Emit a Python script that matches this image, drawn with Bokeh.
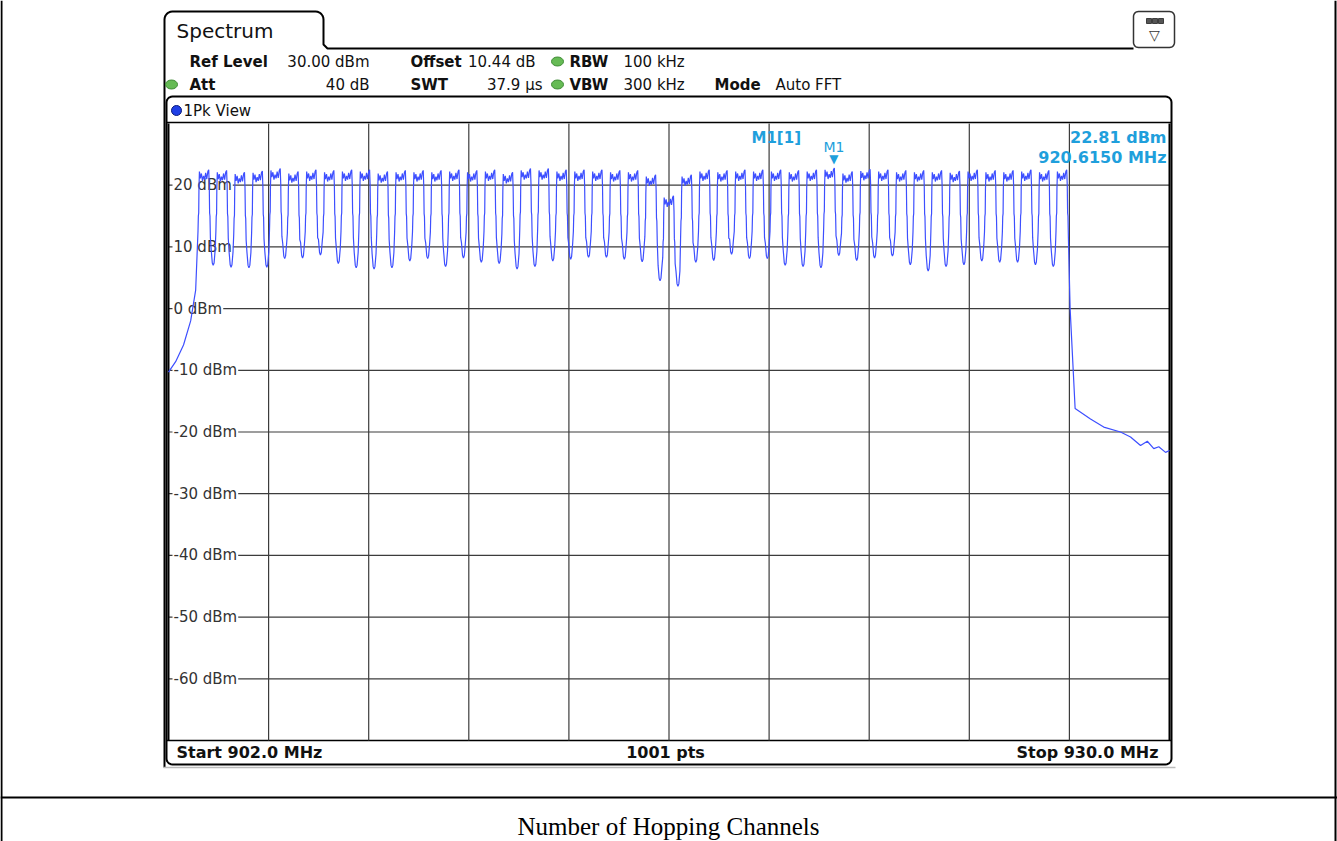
import numpy as np
from bokeh.plotting import figure
from bokeh.models import Range1d
from bokeh.core.properties import value
from bokeh.embed import file_html
from bokeh.resources import INLINE

# ---------------- data ----------------
start_mhz = 902.0
stop_mhz = 930.0
ref_dbm = 30.0
bottom_dbm = -70.0
n_points = 1001

level_ticks = [20, 10, 0, -10, -20, -30, -40, -50, -60]
level_labels = ["20 dBm", "10 dBm", "0 dBm", "-10 dBm", "-20 dBm",
                "-30 dBm", "-40 dBm", "-50 dBm", "-60 dBm"]
freq_grid = [904.8, 907.6, 910.4, 913.2, 916.0, 918.8, 921.6, 924.4, 927.2]

# hopping channel centres (MHz)
ch_mhz = [903.0, 903.5, 904.0, 904.5, 905.0, 905.5, 906.0, 906.5, 907.0, 907.5,
          908.0, 908.5, 909.0, 909.5, 910.0, 910.5, 911.0, 911.5, 912.0, 912.5,
          913.0, 913.5, 914.0, 914.5, 915.0, 915.5, 916.0, 916.5, 917.0, 917.5,
          918.0, 918.5, 919.0, 919.5, 920.0, 920.5, 921.0, 921.5, 922.0, 922.5,
          923.0, 923.5, 924.0, 924.5, 925.0, 925.5, 926.0, 926.5, 927.0]
# peak level of each channel (dBm)
ch_top_dbm = [22.5, 22.4, 22.1, 22.3, 22.7, 22.2, 22.5, 22.4, 22.5, 22.5,
              22.2, 22.4, 22.4, 22.4, 22.5, 22.4, 22.5, 22.1, 22.7, 22.7,
              22.5, 22.5, 22.5, 22.4, 22.4, 21.7, 18.3, 21.7, 22.5, 22.4,
              22.5, 22.5, 22.5, 22.4, 22.5, 22.8, 22.2, 22.6, 22.5, 22.4,
              22.4, 22.4, 22.3, 22.5, 22.4, 22.4, 22.5, 22.4, 22.5]
# level of the notch between neighbouring channels (dBm)
dip_dbm = [7.0, 6.7, 6.6, 6.7, 8.1, 8.2, 8.7, 7.3, 6.6, 6.4,
           6.6, 7.7, 8.1, 6.8, 8.2, 7.5, 7.3, 6.4, 6.8, 7.7,
           8.0, 8.3, 8.3, 8.0, 7.6, 4.5, 3.6, 7.5, 7.8, 8.8,
           8.1, 8.1, 7.0, 6.8, 6.6, 8.6, 7.8, 8.2, 8.5, 7.1,
           6.1, 6.8, 7.1, 7.7, 7.5, 7.5, 7.1, 6.8]
# skirt below the first channel and after the last channel
lead_mhz = [902.0, 902.2, 902.42, 902.62, 902.76]
lead_dbm = [-10.3, -8.6, -5.9, -2.0, 3.0]
tail_mhz = [927.22, 927.36, 927.79, 928.16, 928.63, 928.91, 929.19,
            929.38, 929.56, 929.70, 929.89, 930.0]
tail_dbm = [0.0, -16.2, -17.9, -19.2, -20.0, -20.8, -22.2,
            -21.5, -22.7, -22.4, -23.3, -23.0]

m1_mhz = 920.615
m1_dbm = 22.81

# ---------------- page geometry (pixels) ----------------
W, H = 1337, 841
PL, PR, PT, PB = 168, 1169, 123, 740      # grid area

# shape of one channel (offset MHz from centre, level relative to its peak)
prof_off = [-0.175, -0.165, -0.155, -0.148, -0.135, -0.11, -0.08, -0.05, -0.02,
            0.01, 0.04, 0.07, 0.10, 0.125, 0.14, 0.15, 0.16, 0.172]
prof_rel = [-10.0, -7.5, -7.0, -3.0, -0.3, -1.4, -0.6, -1.8, -1.0,
            -1.6, -0.5, -1.5, -0.3, 0.0, -2.5, -7.0, -7.5, -11.0]
# shape of the notch between channels (offset from midpoint, level above notch)
notch_off = [-0.055, -0.025, 0.0, 0.025, 0.055]
notch_rel = [2.5, 0.4, 0.0, 0.4, 2.5]

tx, ty = list(lead_mhz), list(lead_dbm)
for i, (c, t) in enumerate(zip(ch_mhz, ch_top_dbm)):
    for o, r in zip(prof_off, prof_rel):
        tx.append(c + o)
        ty.append(t + r)
    if i < len(dip_dbm):
        mid = (c + ch_mhz[i + 1]) / 2
        for o, r in zip(notch_off, notch_rel):
            tx.append(mid + o)
            ty.append(dip_dbm[i] + r)
tx += tail_mhz
ty += tail_dbm

p = figure(width=W, height=H, x_range=Range1d(0, W), y_range=Range1d(H, 0),
           output_backend="svg", toolbar_location=None, min_border=0,
           x_axis_location=None, y_axis_location=None)
p.xgrid.visible = False
p.ygrid.visible = False
p.outline_line_color = None
p.background_fill_color = "white"
p.border_fill_color = "white"

mpp = (stop_mhz - start_mhz) / (PR - PL)
dpp = (ref_dbm - bottom_dbm) / (PB - PT)
p.extra_x_ranges = {"mhz": Range1d(start_mhz - PL * mpp, stop_mhz + (W - PR) * mpp)}
p.extra_y_ranges = {"dbm": Range1d(bottom_dbm - (H - PB) * dpp, ref_dbm + PT * dpp)}
D = dict(x_range_name="mhz", y_range_name="dbm")

SANS = value("DejaVu Sans")


def arc(cx, cy, r, a0, a1, n=7):
    a = np.radians(np.linspace(a0, a1, n))
    return list(cx + r * np.cos(a)), list(cy + r * np.sin(a))


def rrect(x0, y0, x1, y1, r):
    xs, ys = [], []
    for cx, cy, a0, a1 in [(x1 - r, y0 + r, 270, 360), (x1 - r, y1 - r, 0, 90),
                           (x0 + r, y1 - r, 90, 180), (x0 + r, y0 + r, 180, 270)]:
        ax, ay = arc(cx, cy, r, a0, a1)
        xs += ax
        ys += ay
    xs.append(xs[0])
    ys.append(ys[0])
    return xs, ys


# ---- document frame ----
p.segment(x0=[1, 1335, 0], y0=[0, 0, 797], x1=[1, 1335, W], y1=[H, H, 797],
          line_color="black", line_width=2)
p.text(x=[668], y=[826], text=["Number of Hopping Channels"],
       text_font=value("Liberation Serif"), text_font_size="25px",
       text_align="center", text_baseline="middle", text_color="black")

# ---- analyzer screenshot frame ----
ax1, ay1 = arc(172, 19, 8, 180, 270)
ax2, ay2 = arc(315, 19, 8, 270, 360)
tab_x = [164] + ax1 + ax2 + [323, 327, 1133]
tab_y = [767] + ay1 + ay2 + [44, 48, 48]
p.line(tab_x, tab_y, line_color="black", line_width=2)
p.segment(x0=[163], y0=[767], x1=[1175], y1=[767], line_color="#bbbbbb", line_width=1.5)
p.text(x=[176], y=[30], text=["Spectrum"], text_font=SANS, text_font_size="20px",
       text_baseline="middle", text_color="#111")

# menu icon
ix, iy = rrect(1133, 11, 1174, 47, 5)
p.patch(ix, iy, fill_color="white", line_color="#333", line_width=1.5)
p.quad(left=[1146, 1152, 1158], right=[1151, 1157, 1163], top=[18, 18, 18],
       bottom=[23, 23, 23], fill_color="#555", line_color="#222", line_width=0.8)
p.text(x=[1154], y=[34], text=["\u25bd"], text_font=SANS, text_font_size="14px",
       text_align="center", text_baseline="middle", text_color="#333")

# header settings
hb = dict(text_font=SANS, text_font_size="15px", text_baseline="middle", text_color="#111")
p.text(x=[189, 410, 569, 189, 410, 569, 714], y=[61, 61, 61, 84, 84, 84, 84],
       text=["Ref Level", "Offset", "RBW", "Att", "SWT", "VBW", "Mode"],
       text_font_style="bold", **hb)
p.text(x=[369, 535, 369, 542], y=[61, 61, 84, 84],
       text=["30.00 dBm", "10.44 dB", "40 dB", "37.9 \u00b5s"], text_align="right", **hb)
p.text(x=[623, 623, 775], y=[61, 84, 84], text=["100 kHz", "300 kHz", "Auto FFT"], **hb)
p.ellipse(x=[557, 171, 557], y=[61, 84, 84], width=12, height=9,
          fill_color="#66bb55", line_color="#3d8a34", line_width=1)

# ---- plot panel ----
px_, py_ = rrect(166, 96, 1171, 764, 6)
p.patch(px_, py_, fill_color="white", line_color="black", line_width=2)
p.segment(x0=[166, 166], y0=[122, 740], x1=[1171, 1171], y1=[122, 740],
          line_color="black", line_width=1.5)
p.circle(x=[176], y=[110], radius=5, fill_color="#1f3fe6", line_color="#0a1a7a", line_width=1)
p.text(x=[183], y=[110], text=["1Pk View"], text_font=SANS, text_font_size="15px",
       text_baseline="middle", text_color="#111")

# grid (data space)
p.segment(x0=freq_grid, y0=[bottom_dbm] * len(freq_grid), x1=freq_grid,
          y1=[ref_dbm] * len(freq_grid), line_color="#3c3c3c", line_width=1.2, **D)
p.segment(x0=[start_mhz] * len(level_ticks), y0=level_ticks,
          x1=[stop_mhz] * len(level_ticks), y1=level_ticks,
          line_color="#3c3c3c", line_width=1.2, **D)
p.text(x=[start_mhz] * len(level_ticks), y=level_ticks, text=level_labels,
       x_offset=4, text_font=SANS, text_font_size="15px", text_baseline="middle",
       text_color="#333", background_fill_color="white", padding=1, **D)
p.segment(x0=[start_mhz, stop_mhz], y0=[bottom_dbm, bottom_dbm],
          x1=[start_mhz, stop_mhz], y1=[ref_dbm, ref_dbm],
          line_color="black", line_width=2, **D)

# trace
p.line(tx, ty, line_color="#3d4fff", line_width=1.2, **D)

# marker
mk = "#1f9fdc"
p.text(x=[m1_mhz], y=[m1_dbm], text=["\u25bc"], text_font=SANS, text_font_size="12px",
       text_align="center", text_baseline="bottom", y_offset=-2, text_color=mk, **D)
p.text(x=[m1_mhz], y=[m1_dbm], text=["M1"], text_font=SANS, text_font_size="14px",
       text_align="center", text_baseline="bottom", y_offset=-13, text_color=mk, **D)
p.text(x=[751], y=[137], text=["M1[1]"], text_font=SANS, text_font_size="15px",
       text_font_style="bold", text_baseline="middle", text_color=mk)
p.text(x=[1166, 1166], y=[137, 157],
       text=[f"{m1_dbm:.2f} dBm", f"{m1_mhz:.4f} MHz"], text_font=SANS,
       text_font_size="16px", text_font_style="bold", text_align="right",
       text_baseline="middle", text_color=mk)

# status bar
sb = dict(text_font=SANS, text_font_size="16px", text_font_style="bold",
          text_baseline="middle", text_color="#111")
p.text(x=[176], y=[752], text=[f"Start {start_mhz:.1f} MHz"], **sb)
p.text(x=[665], y=[752], text=[f"{n_points} pts"], text_align="center", **sb)
p.text(x=[1158], y=[752], text=[f"Stop {stop_mhz:.1f} MHz"], text_align="right", **sb)

open("out.html", "w").write(file_html(p, INLINE))
